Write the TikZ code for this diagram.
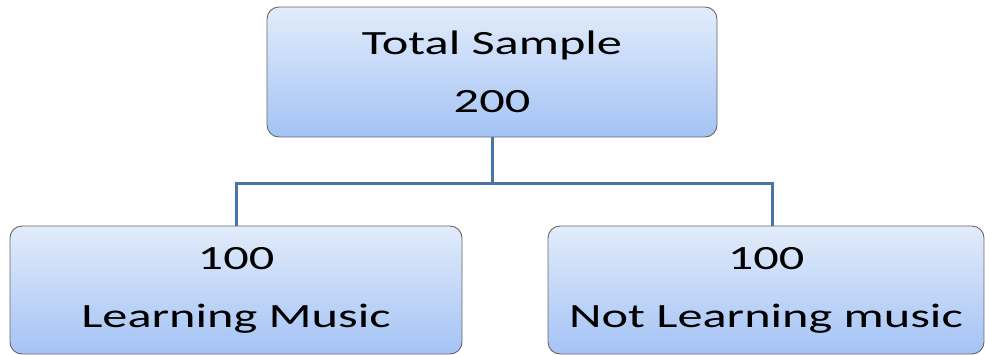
\documentclass[tikz,border=0pt]{standalone}
\usepackage{graphicx}
\usepackage{fontspec}
\setmainfont{Carlito}
% widened lettering used in every box
\newcommand\wideline[1]{\scalebox{1.48}[1]{#1}}
\begin{document}
\begin{tikzpicture}[x=1pt,y=-1pt,
  box/.style={draw=black!60, line width=0.9pt, rounded corners=12pt,
    top color=boxtop, bottom color=boxbot, shading angle=0,
    inner sep=0pt, align=center,
    font=\fontsize{34}{58}\selectfont},
  link/.style={draw=linkblue, line width=3pt}]
\definecolor{boxtop}{HTML}{E2ECFB}
\definecolor{boxbot}{HTML}{A4C3F5}
\definecolor{linkblue}{HTML}{4A74A4}
\useasboundingbox (0,0) rectangle (985,354);
\begin{scope}
\clip (0,0) rectangle (985,354);
\node[box, minimum width=450pt, minimum height=130pt] (top) at (492,72)
  {\wideline{Total Sample}\\\wideline{200}};
\node[box, minimum width=452pt, minimum height=128pt] (left) at (236,290)
  {\wideline{100}\\\wideline{Learning Music}};
\node[box, minimum width=436pt, minimum height=128pt] (right) at (766,290)
  {\wideline{100}\\\wideline{Not Learning music}};
\coordinate (j) at (492,183);
\draw[link] (top.south) -- (j);
\draw[link] (j) -| (left.north);
\draw[link] (j) -| ([xshift=6pt]right.north);
\end{scope}
\end{tikzpicture}
\end{document}
